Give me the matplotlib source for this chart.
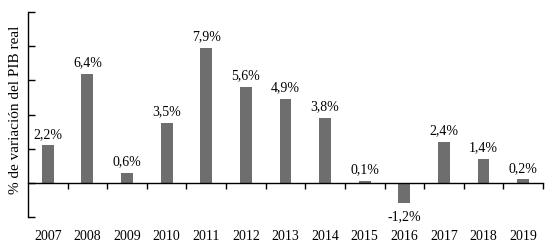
import matplotlib.pyplot as plt

years = ['2007', '2008', '2009', '2010', '2011', '2012', '2013',
         '2014', '2015', '2016', '2017', '2018', '2019']
growth = [2.2, 6.4, 0.6, 3.5, 7.9, 5.6, 4.9, 3.8, 0.1, -1.2, 2.4, 1.4, 0.2]

plt.rcParams['font.family'] = ['Liberation Serif', 'DejaVu Serif']

fig = plt.figure(figsize=(5.6, 2.51), dpi=100)
ax = fig.add_axes([0.05, 0.1315, 0.9196, 0.8165])

x = list(range(len(years)))
ax.bar(x, growth, width=0.3, color='#6e6e6e')

for xi, v in zip(x, growth):
    lbl = ('%.1f%%' % v).replace('.', ',')
    if v >= 0:
        ax.annotate(lbl, (xi, v), xytext=(0, 4), textcoords='offset points',
                    ha='center', va='bottom', fontsize=10)
    else:
        ax.annotate(lbl, (xi, v), xytext=(0, -4), textcoords='offset points',
                    ha='center', va='top', fontsize=10)

for xi, yr in zip(x, years):
    ax.text(xi, -0.088, yr, transform=ax.get_xaxis_transform(),
            ha='center', va='center', fontsize=10)

ax.set_xlim(-0.5, 12.5)
ax.set_ylim(-2, 10)
ax.spines['top'].set_visible(False)
ax.spines['right'].set_visible(False)
ax.spines['bottom'].set_position(('data', 0))
ax.spines['bottom'].set_linewidth(1.0)
ax.spines['left'].set_linewidth(1.0)

ax.set_xticks([i + 0.5 for i in x])
ax.set_xticklabels([])
ax.tick_params(axis='x', direction='out', length=4, width=1)
ax.set_yticks(range(-2, 11, 2))
ax.set_yticklabels([])
ax.tick_params(axis='y', direction='in', length=5, width=1)

ax.set_ylabel('% de variación del PIB real', fontsize=11)
ax.yaxis.set_label_coords(-0.012, 0.53)

fig.savefig('out.png', dpi=100)
